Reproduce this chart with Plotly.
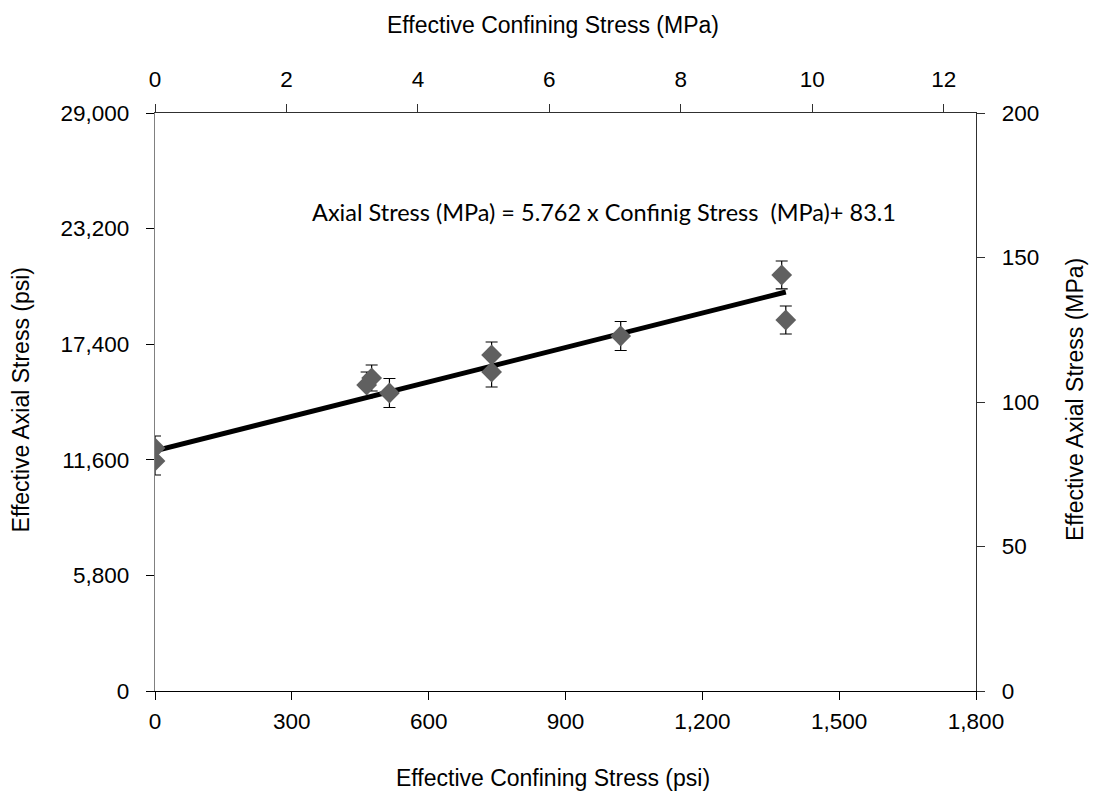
import plotly.graph_objects as go

# ---- data ----
conf_psi = [0, 0, 475, 464, 514, 738, 738, 1021, 1374, 1383]
axial_psi = [12193, 11540, 15705, 15354, 14952, 16859, 16006, 17812, 20873, 18615]
axial_err_psi = [602, 702, 652, 652, 728, 652, 753, 728, 702, 702]

# trendline coefficients (MPa units) from the chart annotation
slope = 5.762
intercept_mpa = 83.1
PSI_PER_MPA = 145.0

x_ticks_psi = [0, 300, 600, 900, 1200, 1500, 1800]
y_ticks_psi = [0, 5800, 11600, 17400, 23200, 29000]
x_ticks_mpa = [0, 2, 4, 6, 8, 10, 12]
y_ticks_mpa = [0, 50, 100, 150, 200]

eq_text = "Axial Stress (MPa) = 5.762 x Confinig Stress&nbsp; (MPa)+ 83.1"

# trend line in psi
x_line = [min(conf_psi), max(conf_psi)]
y_line = [(slope * (x / PSI_PER_MPA) + intercept_mpa) * PSI_PER_MPA for x in x_line]

FONT = "Liberation Sans, Arial, sans-serif"

fig = go.Figure()
fig.add_trace(go.Scatter(
    x=x_line, y=y_line, mode="lines",
    line=dict(color="#000000", width=5),
    showlegend=False, hoverinfo="skip"))
fig.add_trace(go.Scatter(
    x=conf_psi, y=axial_psi, mode="markers",
    marker=dict(symbol="diamond", size=16, color="#606060", line=dict(width=0)),
    error_y=dict(type="data", array=axial_err_psi, visible=True, color="#000000",
                 thickness=1.2, width=6),
    showlegend=False, hoverinfo="skip"))
# invisible trace to activate the secondary (MPa) axes
fig.add_trace(go.Scatter(
    x=[c / 144.1 for c in conf_psi], y=[a / PSI_PER_MPA for a in axial_psi],
    xaxis="x2", yaxis="y2", mode="markers", marker=dict(opacity=0),
    showlegend=False, hoverinfo="skip"))

tickfont = dict(family=FONT, size=22.5, color="#000000")
common = dict(showgrid=False, zeroline=False, ticks="outside", ticklen=8,
              tickwidth=1.2, showline=True, linewidth=1.3, tickfont=tickfont)

fig.update_layout(
    width=1098, height=794,
    margin=dict(l=155, r=122, t=113, b=103, autoexpand=False),
    paper_bgcolor="white", plot_bgcolor="white",
    xaxis=dict(range=[0, 1800], tickvals=x_ticks_psi, tickformat=",",
               linecolor="#000000", tickcolor="#000000", ticklabelstandoff=2, **common),
    yaxis=dict(range=[0, 29000], tickvals=y_ticks_psi, tickformat=",",
               linecolor="#808080", tickcolor="#000000", ticklabelstandoff=12, **common),
    xaxis2=dict(range=[0, 1800 / 144.1], tickvals=x_ticks_mpa, overlaying="x",
                side="top", anchor="y", linecolor="#303030", tickcolor="#303030",
                ticklabelstandoff=8, **common),
    yaxis2=dict(range=[0, 200], tickvals=y_ticks_mpa, overlaying="y",
                side="right", anchor="x", linecolor="#303030", tickcolor="#303030",
                ticklabelstandoff=12, **common),
)

def px_x(p):
    return (p - 155.5) / 820.5

def px_y(p):
    return (691 - p) / 578

tfont = dict(family=FONT, size=23, color="#000000")
fig.add_annotation(text="Effective Confining Stress (psi)", xref="paper", yref="paper",
                   x=px_x(553), y=px_y(778), showarrow=False, font=tfont,
                   xanchor="center", yanchor="middle")
fig.add_annotation(text="Effective Confining Stress (MPa)", xref="paper", yref="paper",
                   x=px_x(553), y=px_y(25), showarrow=False, font=tfont,
                   xanchor="center", yanchor="middle")
fig.add_annotation(text="Effective Axial Stress (psi)", xref="paper", yref="paper",
                   x=px_x(22), y=px_y(400), showarrow=False, font=tfont, textangle=-90,
                   xanchor="center", yanchor="middle")
fig.add_annotation(text="Effective Axial Stress (MPa)", xref="paper", yref="paper",
                   x=px_x(1075), y=px_y(400), showarrow=False, font=tfont, textangle=-90,
                   xanchor="center", yanchor="middle")
fig.add_annotation(text=eq_text, xref="paper", yref="paper",
                   x=px_x(310), y=px_y(212), showarrow=False,
                   font=dict(family="Lato, Carlito, sans-serif", size=23.5, color="#000000"),
                   xanchor="left", yanchor="middle")

fig.write_html("out.html")
